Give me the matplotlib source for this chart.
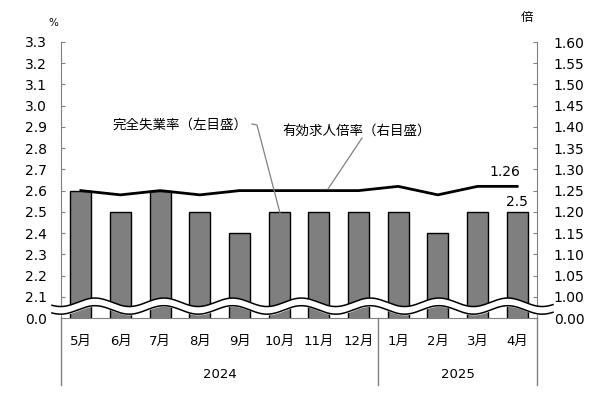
import numpy as np
import matplotlib
matplotlib.use('Agg')
import matplotlib.pyplot as plt
from matplotlib.transforms import blended_transform_factory

plt.rcParams['font.family'] = ['DejaVu Sans', 'Noto Sans CJK JP']

# data
months = ['5月', '6月', '7月', '8月', '9月', '10月', '11月', '12月', '1月', '2月', '3月', '4月']
years = ['2024', '2025']
year_span = [(0, 7), (8, 11)]
unemp = [2.6, 2.5, 2.6, 2.5, 2.4, 2.5, 2.5, 2.5, 2.5, 2.4, 2.5, 2.5]       # left axis, %
ratio = [1.25, 1.24, 1.25, 1.24, 1.25, 1.25, 1.25, 1.25, 1.26, 1.24, 1.26, 1.26]  # right axis, times

left_ticks = np.round(np.arange(2.0, 3.31, 0.1), 2)
left_labels = ['0.0'] + ['%.1f' % v for v in left_ticks[1:]]
right_ticks = np.round(np.arange(0.95, 1.601, 0.05), 2)
right_labels = ['0.00'] + ['%.2f' % v for v in right_ticks[1:]]

W, H = 615, 399
fig = plt.figure(figsize=(W / 100, H / 100), dpi=100)
L, R, T, B = 61, 537, 42, 318
ax = fig.add_axes([L / W, 1 - B / H, (R - L) / W, (B - T) / H])
ax2 = ax.twinx()

grey = '#808080'
x = np.arange(len(months))
ax.bar(x, unemp, width=0.53, color='#7f7f7f', edgecolor='black', linewidth=1.0, zorder=2)
ax.set_xlim(-0.5, len(months) - 0.5)
ax.set_ylim(2.0, 3.3)
ax.set_yticks(left_ticks)
ax.set_yticklabels(left_labels, fontsize=10)
ax.set_xticks(x)
ax.set_xticklabels(months, fontsize=9.5)
ax.tick_params(axis='x', length=0, pad=12)
ax.tick_params(axis='y', direction='in', length=3, color=grey, pad=10)
for s in ['top', 'right']:
    ax.spines[s].set_visible(False)
for s in ['left', 'bottom']:
    ax.spines[s].set_color(grey)

ax2.plot(x, ratio, color='black', linewidth=2.0, zorder=5)
ax2.set_ylim(0.95, 1.60)
ax2.set_yticks(right_ticks)
ax2.set_yticklabels(right_labels, fontsize=10)
ax2.tick_params(axis='y', direction='in', length=3, color=grey, pad=12)
for s in ['top', 'left', 'bottom']:
    ax2.spines[s].set_visible(False)
ax2.spines['right'].set_color(grey)

# wavy axis break
tr = blended_transform_factory(ax.transAxes, ax.transData)
px = np.linspace(52, 553, 600)
xa = (px - L) / (R - L)
top = 2.074 + 0.02 * np.cos(2 * np.pi * (px - 95) / 68.8)
bot = top - 0.036
ax2.fill_between(xa, bot, top, color='white', transform=tr, clip_on=False, zorder=3)
ax2.plot(xa, top, color='black', lw=1.1, transform=tr, clip_on=False, zorder=3.1)
ax2.plot(xa, bot, color='black', lw=1.1, transform=tr, clip_on=False, zorder=3.1)

# category separators below axis
ext = -(385 - B) / (B - T)
trx = blended_transform_factory(ax.transData, ax.transAxes)
for xv in [-0.5, 7.5, len(months) - 0.5]:
    ax.plot([xv, xv], [0, ext], color=grey, lw=1.0, transform=trx, clip_on=False)
for yr, (a, b) in zip(years, year_span):
    ax.text((a + b) / 2, -(375 - B) / (B - T), yr, transform=trx,
            ha='center', va='center', fontsize=9.5)

# units
fig.text(53 / W, 1 - 23 / H, '%', fontsize=7.5, ha='center', va='center')
fig.text(527 / W, 1 - 17 / H, '倍', fontsize=9, ha='center', va='center',
         family=['Noto Sans CJK JP'])

# value labels
ax2.annotate('%.2f' % ratio[-1], (x[-1], ratio[-1]), xytext=(-9, 10),
             textcoords='offset points', ha='center', va='center', fontsize=10)
ax.annotate('%.1f' % unemp[-1], (x[-1], unemp[-1]), xytext=(0, 7),
            textcoords='offset points', ha='center', va='center', fontsize=10)

# series labels with leader lines
fig.text(113 / W, 1 - 125 / H, '完全失業率（左目盛）', fontsize=9.7, ha='left', va='center',
         family=['Noto Sans CJK JP'])
fig.text(282 / W, 1 - 131 / H, '有効求人倍率（右目盛）', fontsize=9.7, ha='left', va='center',
         family=['Noto Sans CJK JP'])
fig.add_artist(plt.Line2D([252 / W, 257 / W, 280 / W],
                          [1 - 124 / H, 1 - 125 / H, 1 - 213 / H], color=grey, lw=0.9))
fig.add_artist(plt.Line2D([362 / W, 328 / W], [1 - 138 / H, 1 - 189 / H], color=grey, lw=0.9))

fig.savefig('out.png', dpi=100)
